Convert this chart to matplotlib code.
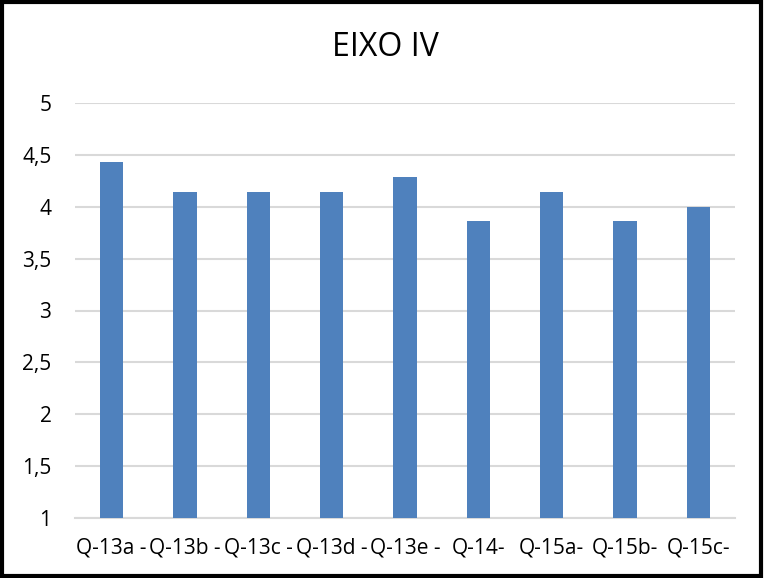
import matplotlib
matplotlib.use('Agg')
import matplotlib.pyplot as plt
from matplotlib.patches import Rectangle

categories = ['Q-13a -', 'Q-13b -', 'Q-13c -', 'Q-13d -', 'Q-13e -',
              'Q-14-', 'Q-15a-', 'Q-15b-', 'Q-15c-']
values = [4.43, 4.14, 4.14, 4.14, 4.29, 3.86, 4.14, 3.86, 4.0]
yticks = [1, 1.5, 2, 2.5, 3, 3.5, 4, 4.5, 5]
ytick_labels = ['1', '1,5', '2', '2,5', '3', '3,5', '4', '4,5', '5']

plt.rcParams['font.family'] = ['Open Sans', 'DejaVu Sans']

fig = plt.figure(figsize=(7.65, 5.78), dpi=100)
ax = fig.add_axes([75 / 765, 1 - 518 / 578, 660 / 765, 415 / 578])

x = list(range(len(categories)))
ax.bar(x, [v - 1 for v in values], bottom=1, width=0.32, color='#4f81bd', zorder=3)

ax.set_xlim(-0.5, len(categories) - 0.5)
ax.set_ylim(1, 5)
ax.set_yticks(yticks)
ax.set_yticklabels(ytick_labels)
ax.set_xticks(x)
ax.set_xticklabels(categories)
ax.tick_params(axis='y', length=0, pad=17, labelsize=15)
ax.tick_params(axis='x', length=0, pad=14, labelsize=15)

ax.grid(axis='y', color='#d9d9d9', linewidth=1.5, zorder=0)
for s in ['top', 'right', 'left']:
    ax.spines[s].set_visible(False)
ax.spines['bottom'].set_color('#d9d9d9')
ax.spines['bottom'].set_linewidth(1.5)

fig.text(385 / 765, 1 - 48 / 578, 'EIXO IV', ha='center', va='center', fontsize=23)

# black frame around the whole chart
fig.patches.append(Rectangle((0.003, 0.004), 0.992, 0.992, transform=fig.transFigure,
                             fill=False, edgecolor='black', linewidth=3))

fig.savefig('out.png', dpi=100)
